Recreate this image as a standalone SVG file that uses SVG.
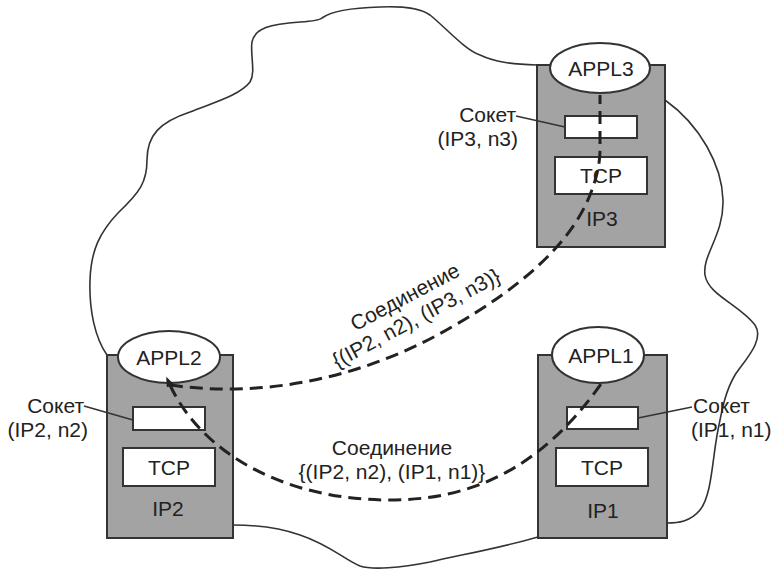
<svg xmlns="http://www.w3.org/2000/svg" width="774" height="569" viewBox="0 0 774 569">
<style>
text{font-family:"Liberation Sans",Arial,sans-serif;font-size:21px;fill:#222}
.host{fill:#a3a3a3;stroke:#333;stroke-width:2}
.app{fill:#fff;stroke:#333;stroke-width:2}
.box{fill:#fff;stroke:#333;stroke-width:2}
.cloud{fill:none;stroke:#333;stroke-width:1.6}
.lead{fill:none;stroke:#333;stroke-width:1.6}
.conn{fill:none;stroke:#222;stroke-width:3;stroke-dasharray:13 7}
.mid{text-anchor:middle}
.end{text-anchor:end}
</style>
<defs>
<marker id="arr" viewBox="0 0 10 8" refX="1" refY="4" markerWidth="10" markerHeight="8" markerUnits="userSpaceOnUse" orient="auto-start-reverse">
<path d="M0,0 L10,4 L0,8 z" fill="#222"/>
</marker>
</defs>
<rect width="774" height="569" fill="#fff"/>
<g id="cloud">
<path class="cloud" d="M107,355 C95,338 89,310 90,280 C91,250 100,232 118,213 C140,192 147,182 147,160 C147,135 160,122 190,112 C215,102 240,95 250,82 C256,72 250,55 252,42 C255,28 270,24 300,22 C315,21 320,20 322,18 C330,12 345,8 380,7 C405,6 420,8 430,15 C445,27 465,50 480,55 C495,62 510,64 537,65"/>
<path class="cloud" d="M665,100 C700,125 722,165 723,200 C724,235 702,255 705,275 C708,295 740,305 755,325 C765,340 745,360 735,375 C725,392 722,410 718,430 C712,460 712,495 700,510 C690,522 678,523 667,523"/>
<path class="cloud" d="M538,537 C500,548 460,555 430,562 C400,568 372,570 360,566 C345,560 330,545 300,535 C280,528 260,525 233,525"/>
</g>
<g id="host3">
<rect class="host" x="537" y="65" width="128" height="182"/>
<ellipse class="app" cx="600" cy="68" rx="50" ry="25"/>
<text class="mid" x="601" y="76">APPL3</text>
<rect class="box" x="565" y="116" width="72" height="22"/>
<rect class="box" x="555" y="157" width="92" height="37"/>
<text class="mid" x="601" y="183">TCP</text>
<text class="mid" x="602" y="226">IP3</text>
<line class="lead" x1="516" y1="116" x2="565" y2="127"/>
<text class="end" x="516" y="122">Сокет</text>
<text class="end" x="518" y="146">(IP3, n3)</text>
</g>
<g id="host2">
<rect class="host" x="107" y="355" width="126" height="183"/>
<ellipse class="app" cx="169" cy="357" rx="51" ry="26"/>
<text class="mid" x="169" y="365">APPL2</text>
<rect class="box" x="133" y="407" width="72" height="23"/>
<rect class="box" x="123" y="448" width="92" height="38"/>
<text class="mid" x="169" y="475">TCP</text>
<text class="mid" x="168" y="516">IP2</text>
<line class="lead" x1="84" y1="406" x2="133" y2="420"/>
<text class="end" x="84" y="413">Сокет</text>
<text class="end" x="88" y="437">(IP2, n2)</text>
</g>
<g id="host1">
<rect class="host" x="538" y="355" width="129" height="183"/>
<ellipse class="app" cx="598" cy="355" rx="46" ry="28"/>
<text class="mid" x="601" y="363">APPL1</text>
<rect class="box" x="567" y="407" width="71" height="22"/>
<rect class="box" x="556" y="448" width="92" height="38"/>
<text class="mid" x="602" y="475">TCP</text>
<text class="mid" x="603" y="518">IP1</text>
<line class="lead" x1="638" y1="418" x2="692" y2="407"/>
<text x="693" y="413">Сокет</text>
<text x="691" y="437">(IP1, n1)</text>
</g>
<g id="connectors">
<path class="conn" d="M170,385 C260,398 360,380 450,328 C520,288 570,245 590,195 Q600,170 600,150 L600,95"/>
<path class="conn" marker-start="url(#arr)" d="M170,385 C200,450 280,500 390,500 C470,500 540,470 601,384"/>
<g transform="translate(405,297) rotate(-28)">
<text class="mid" x="0" y="7">Соединение</text>
<text class="mid" x="0" y="31">{(IP2, n2), (IP3, n3)}</text>
</g>
<text class="mid" x="392" y="455">Соединение</text>
<text class="mid" x="392" y="479">{(IP2, n2), (IP1, n1)}</text>
</g>
</svg>
